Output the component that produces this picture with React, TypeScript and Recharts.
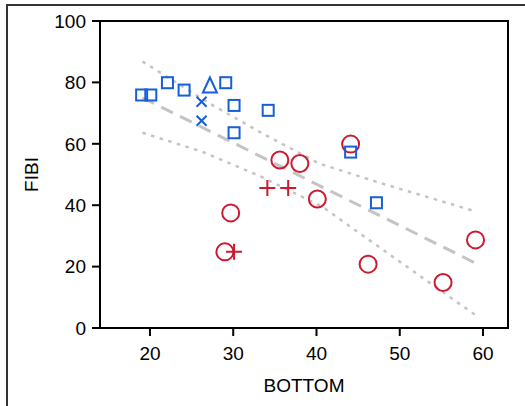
import React from 'react';
import { ScatterChart, Scatter, XAxis, YAxis, ReferenceArea } from 'recharts';

// Blue group
const blueSquareX = [19.0, 20.1, 22.1, 24.1, 29.1, 30.1, 30.1, 34.2, 44.1, 47.2];
const blueSquareY = [75.9, 75.9, 79.9, 77.5, 79.9, 72.5, 63.6, 70.9, 57.3, 40.8];
const blueCrossX = [26.2, 26.2];
const blueCrossY = [73.7, 67.5];
const blueTriX = [27.2];
const blueTriY = [79.0];
// Red group
const redCircleX = [44.1, 35.6, 38.0, 40.1, 29.7, 29.0, 46.2, 55.2, 59.1];
const redCircleY = [59.9, 54.7, 53.6, 42.0, 37.5, 24.8, 20.8, 14.8, 28.7];
const redPlusX = [34.1, 36.6, 30.1];
const redPlusY = [45.6, 45.6, 24.8];
// Regression line and confidence limits
const fitX = [19.1, 59.2];
const fitY = [75.0, 21.0];
const upperX = [19.1, 27.5, 33.5, 40.3, 47.7, 59.2];
const upperY = [86.8, 72.6, 63.4, 53.6, 47.2, 37.9];
const lowerX = [19.1, 26.3, 33.1, 40.7, 47.6, 59.1];
const lowerY = [63.6, 57.4, 49.6, 39.5, 26.2, 4.2];

const xTicks = [20, 30, 40, 50, 60];
const yTicks = [0, 20, 40, 60, 80, 100];

const zip = (xs: number[], ys: number[]) => xs.map((x, i) => ({ x, y: ys[i] }));

const BLUE = '#1560d8';
const RED = '#cc1a30';
const GRAY = '#c4c4c4';
const FONT = '"Liberation Sans", Arial, sans-serif';

const Square = (p: any) => (
  <rect x={p.cx - 5.5} y={p.cy - 5.5} width={11} height={11} fill="none" stroke={BLUE} strokeWidth={2} />
);
const Cross = (p: any) => (
  <path d={`M${p.cx - 5},${p.cy - 5}L${p.cx + 5},${p.cy + 5}M${p.cx - 5},${p.cy + 5}L${p.cx + 5},${p.cy - 5}`} stroke={BLUE} strokeWidth={2} fill="none" />
);
const Tri = (p: any) => (
  <path d={`M${p.cx},${p.cy - 8}L${p.cx + 7},${p.cy + 7}L${p.cx - 7},${p.cy + 7}Z`} stroke={BLUE} strokeWidth={2} fill="none" />
);
const Circ = (p: any) => <circle cx={p.cx} cy={p.cy} r={8.5} fill="none" stroke={RED} strokeWidth={2} />;
const Plus = (p: any) => (
  <path d={`M${p.cx - 8},${p.cy}L${p.cx + 8},${p.cy}M${p.cx},${p.cy - 8}L${p.cx},${p.cy + 8}`} stroke={RED} strokeWidth={2} fill="none" />
);
const Nothing = () => <g />;

export default function App() {
  return (
    <div style={{ position: 'absolute', left: 0, top: 0, width: 525, height: 406, overflow: 'hidden', background: '#fff' }}>
      <div style={{ position: 'absolute', left: 6, top: 4, width: 600, height: 500, border: '2px solid #333' }} />
      <div style={{ position: 'absolute', left: 0, top: 0 }}>
        <ScatterChart width={525} height={406} margin={{ top: 21, right: 17, bottom: 0, left: 0 }}>
          <XAxis
            type="number"
            dataKey="x"
            domain={[14, 63]}
            ticks={xTicks}
            allowDataOverflow
            height={78}
            tickSize={8}
            tickMargin={11}
            axisLine={{ stroke: '#000', strokeWidth: 2 }}
            tickLine={{ stroke: '#000', strokeWidth: 2 }}
            tick={{ fill: '#000', fontSize: 19, fontFamily: FONT }}
            label={{
              content: (props: any) => {
                const vb = props.viewBox || { x: 100, y: 328, width: 408 };
                return (
                  <text x={vb.x + vb.width / 2} y={392} textAnchor="middle" fontSize={19} fontFamily={FONT} fill="#000">
                    BOTTOM
                  </text>
                );
              },
            }}
          />
          <YAxis
            type="number"
            dataKey="y"
            domain={[0, 100]}
            ticks={yTicks}
            allowDataOverflow
            width={100}
            tickSize={8}
            tickMargin={6}
            axisLine={{ stroke: '#000', strokeWidth: 2 }}
            tickLine={{ stroke: '#000', strokeWidth: 2 }}
            tick={{ fill: '#000', fontSize: 19, fontFamily: FONT }}
            label={{
              content: (props: any) => {
                const vb = props.viewBox || { x: 0, y: 21, height: 307 };
                const cy = vb.y + vb.height / 2;
                return (
                  <text x={31} y={cy} transform={`rotate(-90 31 ${cy})`} textAnchor="middle" dominantBaseline="central" fontSize={19} fontFamily={FONT} fill="#000">
                    FIBI
                  </text>
                );
              },
            }}
          />
          <ReferenceArea x1={14} x2={63} y1={0} y2={100} fill="none" stroke="#000" strokeWidth={2} ifOverflow="extendDomain" />
          <Scatter data={zip(upperX, upperY)} shape={Nothing} line={{ stroke: GRAY, strokeWidth: 2.5, strokeDasharray: '3.5 5.5' }} isAnimationActive={false} />
          <Scatter data={zip(lowerX, lowerY)} shape={Nothing} line={{ stroke: GRAY, strokeWidth: 2.5, strokeDasharray: '3.5 5.5' }} isAnimationActive={false} />
          <Scatter data={zip(fitX, fitY)} shape={Nothing} line={{ stroke: GRAY, strokeWidth: 3, strokeDasharray: '13 8' }} isAnimationActive={false} />
          <Scatter data={zip(redCircleX, redCircleY)} shape={Circ} isAnimationActive={false} />
          <Scatter data={zip(redPlusX, redPlusY)} shape={Plus} isAnimationActive={false} />
          <Scatter data={zip(blueSquareX, blueSquareY)} shape={Square} isAnimationActive={false} />
          <Scatter data={zip(blueCrossX, blueCrossY)} shape={Cross} isAnimationActive={false} />
          <Scatter data={zip(blueTriX, blueTriY)} shape={Tri} isAnimationActive={false} />
        </ScatterChart>
      </div>
    </div>
  );
}
